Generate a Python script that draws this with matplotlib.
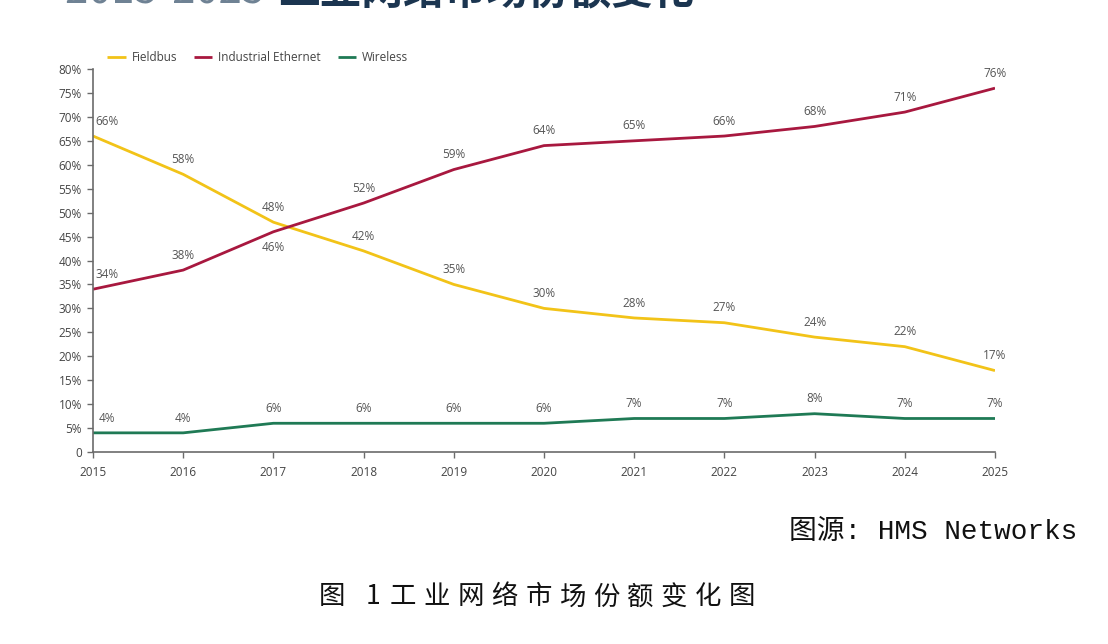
import matplotlib.pyplot as plt
import matplotlib.ticker as ticker

# ------------------------------------------------------------------------------
# DATA
years = [2015, 2016, 2017, 2018, 2019, 2020, 2021, 2022, 2023, 2024, 2025]
fieldbus = [66, 58, 48, 42, 35, 30, 28, 27, 24, 22, 17]
ethernet = [34, 38, 46, 52, 59, 64, 65, 66, 68, 71, 76]
wireless = [4, 4, 6, 6, 6, 6, 7, 7, 8, 7, 7]
series_names = ['Fieldbus', 'Industrial Ethernet', 'Wireless']

title_num = '2015-2025 '
title_cn = '工业网络市场份额变化'
source_text = '图源: HMS Networks'
caption_head = ['图', '1']
caption_body = list('工业网络市场份额变化图')

# ------------------------------------------------------------------------------
# COLOURS
c_field = '#F2C318'
c_eth = '#A8183F'
c_wire = '#1F7A55'
c_axis = '#6b6b6b'
c_text = '#555555'

plt.rcParams['font.family'] = ['Open Sans', 'DejaVu Sans']

fig = plt.figure(figsize=(11.08, 6.44), dpi=100)
ax = fig.add_axes([93 / 1108, 1 - 452 / 644, (995 - 93) / 1108, (452 - 69) / 644])

ax.plot(years, fieldbus, color=c_field, lw=2.0, label=series_names[0], solid_capstyle='butt')
ax.plot(years, ethernet, color=c_eth, lw=2.0, label=series_names[1], solid_capstyle='butt')
ax.plot(years, wireless, color=c_wire, lw=2.0, label=series_names[2], solid_capstyle='butt')

ax.set_xlim(2015, 2025)
ax.set_ylim(0, 80)
ax.xaxis.set_major_locator(ticker.FixedLocator(years))
ax.xaxis.set_major_formatter(ticker.FixedFormatter([str(y) for y in years]))
ax.yaxis.set_major_locator(ticker.MultipleLocator(5))
ax.yaxis.set_major_formatter(ticker.FuncFormatter(lambda v, p: '0' if v == 0 else '%d%%' % v))

for s in ['top', 'right']:
    ax.spines[s].set_visible(False)
for s in ['left', 'bottom']:
    ax.spines[s].set_color(c_axis)
    ax.spines[s].set_linewidth(1.2)
ax.tick_params(axis='both', colors=c_axis, labelcolor='#444444', labelsize=8.5,
               length=4, width=1.0, direction='out')
ax.tick_params(axis='x', pad=6)
ax.tick_params(axis='y', pad=4)

# data labels
def put_labels(vals, below=()):
    for i, (x, v) in enumerate(zip(years, vals)):
        dx = 10 if i == 0 else 0
        if i in below:
            ax.annotate('%d%%' % v, (x, v), xytext=(dx, -7), textcoords='offset points',
                        ha='center', va='top', fontsize=8.5, color=c_text)
        else:
            ax.annotate('%d%%' % v, (x, v), xytext=(dx, 6), textcoords='offset points',
                        ha='center', va='bottom', fontsize=8.5, color=c_text)

put_labels(fieldbus)
put_labels(ethernet, below=(2,))
put_labels(wireless)

# legend
ax.legend(loc='lower left', bbox_to_anchor=(0.01, 1.0), ncol=3, frameon=False,
          fontsize=8.5, handlelength=1.6, handletextpad=0.5, columnspacing=1.4,
          labelcolor='#444444', borderaxespad=0.0)

# title, cropped by the top edge as in the source image
fig.text(65 / 1108, 1 - 3 / 644, title_num, fontsize=30, color='#6f8294',
         ha='left', va='baseline', family=['Noto Sans CJK SC', 'DejaVu Sans'])
fig.text(278 / 1108, 1 - 3 / 644, title_cn, fontsize=30, color='#1b3550', fontweight='bold',
         ha='left', va='baseline', family=['Noto Sans CJK SC', 'DejaVu Sans'])

# source
fig.text(1077 / 1108, 1 - 532 / 644, source_text, fontsize=20, color='#111111',
         ha='right', va='center', family=['Liberation Mono', 'Noto Sans CJK SC'])

# caption with wide character spacing
cap_font = ['Noto Sans CJK SC', 'DejaVu Sans']
for ch, xp in zip(caption_head, [332, 373]):
    fig.text(xp / 1108, 1 - 597 / 644, ch, fontsize=19, color='#111111',
             ha='center', va='center', family=cap_font)
for k, ch in enumerate(caption_body):
    fig.text((403 + k * 33.9) / 1108, 1 - 597 / 644, ch, fontsize=19, color='#111111',
             ha='center', va='center', family=cap_font)

fig.savefig('out.png', dpi=100, facecolor='white')
